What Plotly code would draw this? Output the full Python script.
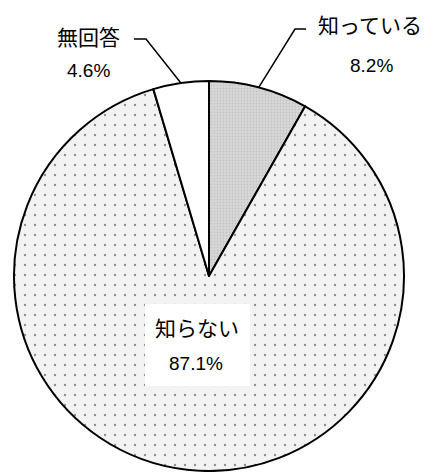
import math
import plotly.graph_objects as go

# Survey answers (percent)
labels = ["知っている", "知らない", "無回答"]
values = [8.2, 87.1, 4.6]
pct_text = ["8.2%", "87.1%", "4.6%"]

W, H = 427, 472

# pie area in pixels (left, top, right, bottom)
PIE_L, PIE_T, PIE_R, PIE_B = 13, 81, 405, 471
cx = (PIE_L + PIE_R) / 2
cy = (PIE_T + PIE_B) / 2
radius = min(PIE_R - PIE_L, PIE_B - PIE_T) / 2


def px(x):
    return x / W


def py(y):
    return 1 - y / H


def slice_mid_point(i):
    """Point on the rim at the middle of slice i (clockwise from 12 o'clock)."""
    total = sum(values)
    start = sum(values[:i]) / total * 360
    mid = math.radians(start + values[i] / total * 180)
    return cx + radius * math.sin(mid), cy - radius * math.cos(mid)


fig = go.Figure(
    go.Pie(
        labels=labels,
        values=values,
        sort=False,
        direction="clockwise",
        rotation=0,
        textinfo="none",
        hoverinfo="skip",
        marker=dict(
            colors=["#d8d8d8", "#f3f3f3", "#ffffff"],
            pattern=dict(
                shape=[".", ".", ""],
                size=[3, 10, 10],
                solidity=[0.3, 0.045, 0.1],
                fgcolor=["#b0b0b0", "#2a2a2a", "#ffffff"],
                fillmode="overlay",
            ),
            line=dict(color="#000000", width=2),
        ),
        domain=dict(x=[px(PIE_L), px(PIE_R)], y=[py(PIE_B), py(PIE_T)]),
    )
)

jp_font = dict(family="Noto Sans CJK JP", size=21, color="#000000")
num_font = dict(family="Liberation Sans, Arial", size=19, color="#000000")

shapes = []
annotations = []

# outside labels with elbow leader lines: (slice index, elbow, end of horizontal, name pos, value pos)
outside = [
    (0, (295, 29), (306, 29), (370, 24), (371, 66)),
    (2, (146, 39), (134, 39), (88, 36), (88, 70)),
]
for i, elbow, tail, name_pos, val_pos in outside:
    sx, sy = slice_mid_point(i)
    path = f"M {px(sx)} {py(sy)} L {px(elbow[0])} {py(elbow[1])} L {px(tail[0])} {py(tail[1])}"
    shapes.append(dict(type="path", xref="paper", yref="paper", path=path,
                       line=dict(color="#000000", width=1.5)))
    annotations.append(dict(x=px(name_pos[0]), y=py(name_pos[1]), text=labels[i],
                            font=jp_font, showarrow=False, xref="paper", yref="paper",
                            xanchor="center", yanchor="middle"))
    annotations.append(dict(x=px(val_pos[0]), y=py(val_pos[1]), text=pct_text[i],
                            font=num_font, showarrow=False, xref="paper", yref="paper",
                            xanchor="center", yanchor="middle"))

# inside label on a white box
shapes.append(dict(type="rect", xref="paper", yref="paper",
                   x0=px(145), x1=px(250), y0=py(386), y1=py(304),
                   fillcolor="#ffffff", line=dict(width=0), layer="above"))
annotations.append(dict(x=px(197), y=py(327), text=labels[1], font=jp_font, showarrow=False,
                        xref="paper", yref="paper", xanchor="center", yanchor="middle"))
annotations.append(dict(x=px(196), y=py(363), text=pct_text[1], font=num_font, showarrow=False,
                        xref="paper", yref="paper", xanchor="center", yanchor="middle"))

fig.update_layout(
    width=W,
    height=H,
    margin=dict(l=0, r=0, t=0, b=0),
    paper_bgcolor="#ffffff",
    plot_bgcolor="#ffffff",
    showlegend=False,
    shapes=shapes,
    annotations=annotations,
)

fig.write_html("out.html")
